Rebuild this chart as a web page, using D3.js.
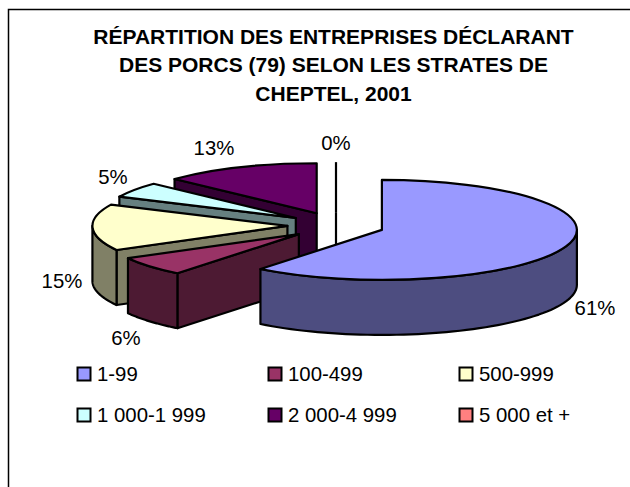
<!DOCTYPE html>
<html><head><meta charset="utf-8">
<script src="https://cdn.jsdelivr.net/npm/d3@7"></script>
<style>html,body{margin:0;padding:0;background:#fff}svg{display:block}text{font-family:"Liberation Sans",Arial,sans-serif;fill:#000}</style>
</head><body><svg id="c" width="630" height="487"></svg>
<script>
const titleLines = ["RÉPARTITION DES ENTREPRISES DÉCLARANT","DES PORCS (79) SELON LES STRATES DE","CHEPTEL, 2001"];
const categories = ["1-99","100-499","500-999","1 000-1 999","2 000-4 999","5 000 et +"];
const shares = [60.7,6.3,15,5,13,0];
const topColors = ["#9999ff","#993366","#ffffcc","#ccffff","#660066","#ff8080"];
const sideColors = ["#4d4d80","#4d1a33","#808066","#668080","#330033","#804040"];

const svg = d3.select("#c");
const cx=336, cy=225.5, R=195, squash=50/195, depth=55, explode=48.6, tilt=0.275;

svg.append("path").attr("d","M8.5,487V9.5H630").attr("fill","none").attr("stroke","#000").attr("stroke-width",1.5);

function fit(sel,k){ sel.each(function(){ const w=this.getComputedTextLength();
  d3.select(this).attr("textLength",w*k).attr("lengthAdjust","spacingAndGlyphs"); }); }

svg.selectAll("text.t").data(titleLines).join("text").attr("class","t")
  .attr("x",333.5).attr("y",(d,i)=>43.5+i*28.5).attr("text-anchor","middle")
  .attr("font-size",21).attr("font-weight","bold").text(d=>d);

const arcs = d3.pie().sort(null).value(d=>d.v).startAngle(0).endAngle(2*Math.PI)(shares.map((v,i)=>({v,i})));
const arcGen = d3.arc().innerRadius(0).outerRadius(R);
const px = a=>R*Math.sin(a), py = a=>-R*squash*Math.cos(a);
const line = d3.line();
const chart = svg.append("g");
const stroke = s=>s.attr("stroke","#000").attr("stroke-width",2.2).attr("stroke-linejoin","round");

// back to front: last series first
arcs.slice().reverse().forEach(s=>{
  const i=s.data.i, mid=(s.startAngle+s.endAngle)/2;
  const ax=cx+explode*Math.sin(mid), ay=cy-explode*tilt*Math.cos(mid);
  const g=chart.append("g").attr("transform",`translate(${ax},${ay})`);
  if(s.value===0){
    g.append("path").attr("d",line([[0,0],[0,py(0)]])).call(stroke).attr("fill","none");
    g.append("path").attr("d",line([[0,0],[0,depth]])).call(stroke).attr("fill","none");
    return;
  }
  // visible radial wall
  if(s.startAngle>=Math.PI && s.startAngle<2*Math.PI){
    const a=s.startAngle;
    g.append("path").attr("d",line([[0,0],[px(a),py(a)],[px(a),py(a)+depth],[0,depth]])+"Z")
      .attr("fill",sideColors[i]).call(stroke);
  }
  // outer rim (front half only)
  const a0=Math.max(s.startAngle,Math.PI/2), a1=Math.min(s.endAngle,3*Math.PI/2);
  if(a1>a0){
    const n=60, as=d3.range(n+1).map(k=>a0+(a1-a0)*k/n);
    const pts=as.map(a=>[px(a),py(a)]).concat(as.slice().reverse().map(a=>[px(a),py(a)+depth]));
    g.append("path").attr("d",line(pts)+"Z").attr("fill",sideColors[i]).call(stroke);
  }
  // top face
  g.append("path").attr("transform",`scale(1,${squash})`).attr("d",arcGen(s))
    .attr("fill",topColors[i]).attr("stroke","#000").attr("stroke-width",2.2)
    .attr("stroke-linejoin","round").attr("vector-effect","non-scaling-stroke");
});

// data labels
const labelX=[595,126,62,113,214,336], labelY=[314.5,344.5,287.5,183.5,154.5,149.5];
svg.selectAll("text.l").data(shares).join("text").attr("class","l")
  .attr("x",(d,i)=>labelX[i]).attr("y",(d,i)=>labelY[i]).attr("text-anchor","middle")
  .attr("font-size",21).text(d=>d3.format(".0%")(d/100)).call(fit,0.97);

// legend
const colX=d3.scalePoint().domain([0,1,2]).range([77,459]);
const rowY=d3.scalePoint().domain([0,1]).range([367,408]);
const lg=svg.selectAll("g.lg").data(categories).join("g").attr("class","lg")
  .attr("transform",(d,i)=>`translate(${colX(i%3)},${rowY(Math.floor(i/3))})`);
lg.append("rect").attr("x",0.5).attr("y",0.5).attr("width",13).attr("height",13)
  .attr("fill",(d,i)=>topColors[i]).attr("stroke","#000").attr("stroke-width",2);
lg.append("text").attr("x",20).attr("y",14).attr("font-size",21).text(d=>d).call(fit,0.97);
</script></body></html>
